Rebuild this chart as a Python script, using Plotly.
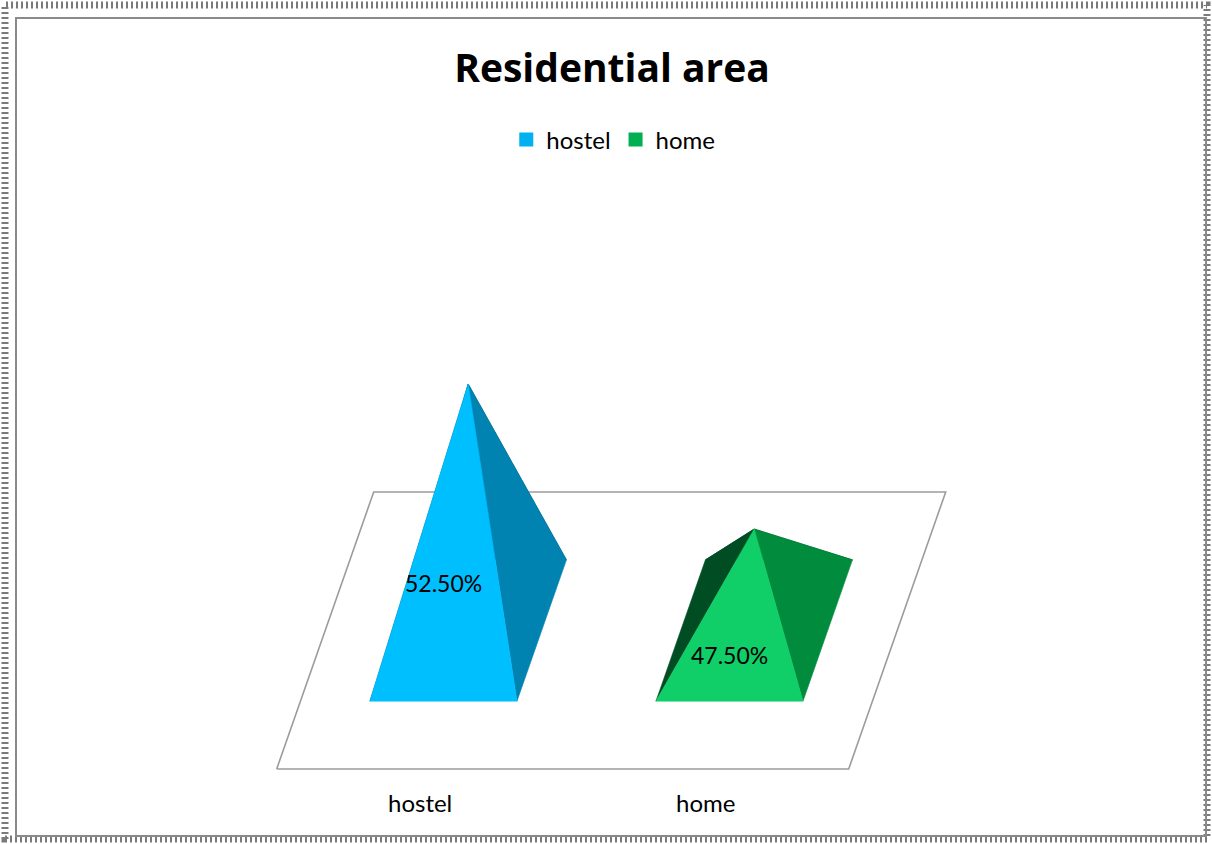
import plotly.graph_objects as go

# ---- data ----
categories = ["hostel", "home"]
values = [0.525, 0.475]
value_labels = ["52.50%", "47.50%"]
legend_colors = ["#00B0F0", "#00B050"]
front_colors = ["#00BFFF", "#10CF68"]
right_colors = ["#0083B0", "#008C3C"]
left_colors = ["#005F80", "#004D23"]
back_colors = ["#004F6B", "#003D1C"]

# ---- oblique projection (units: one category step) ----
UNIT_PX = 286.0
DEPTH_DX = 97.0 / UNIT_PX      # horizontal shift per unit of floor depth
DEPTH_DY = 277.0 / UNIT_PX     # vertical shift per unit of floor depth
VALUE_SCALE = 2900.0 / UNIT_PX # projected height per unit of value
VALUE_BASE = 0.44              # value at floor level
BASE_W = 0.514                 # pyramid base width (category units)
BASE_D = 0.51                  # pyramid base depth (floor depth units)
FLOOR_X = (-0.5, len(categories) - 0.5)


def proj(c, d, v):
    return c + d * DEPTH_DX, d * DEPTH_DY + (v - VALUE_BASE) * VALUE_SCALE


fig = go.Figure()

# floor
fx, fy = [], []
for c, d in [(FLOOR_X[0], 0), (FLOOR_X[1], 0), (FLOOR_X[1], 1), (FLOOR_X[0], 1), (FLOOR_X[0], 0)]:
    x, y = proj(c, d, VALUE_BASE)
    fx.append(x)
    fy.append(y)
fig.add_trace(go.Scatter(x=fx, y=fy, mode="lines", fill="toself", fillcolor="white",
                         line=dict(color="#9C9C9C", width=1.6), hoverinfo="skip",
                         showlegend=False))

# pyramids
d0, d1 = 0.5 - BASE_D / 2, 0.5 + BASE_D / 2
for i, (cat, val) in enumerate(zip(categories, values)):
    fl = proj(i - BASE_W / 2, d0, VALUE_BASE)
    fr = proj(i + BASE_W / 2, d0, VALUE_BASE)
    br = proj(i + BASE_W / 2, d1, VALUE_BASE)
    bl = proj(i - BASE_W / 2, d1, VALUE_BASE)
    apex = proj(i, 0.5, val)
    faces = [
        ([bl, br, apex], back_colors[i]),
        ([fl, bl, apex], left_colors[i]),
        ([fr, br, apex], right_colors[i]),
        ([fl, fr, apex], front_colors[i]),
    ]
    for pts, col in faces:
        xs = [p[0] for p in pts] + [pts[0][0]]
        ys = [p[1] for p in pts] + [pts[0][1]]
        fig.add_trace(go.Scatter(x=xs, y=ys, mode="lines", fill="toself", fillcolor=col,
                                 line=dict(color=col, width=0.6), hoverinfo="skip",
                                 showlegend=False))
    # value label on the front face
    lx, ly = proj(i, d0, VALUE_BASE + (val - VALUE_BASE) / 2)
    fig.add_annotation(x=lx, y=ly, text=value_labels[i], showarrow=False,
                       xanchor="center", yanchor="middle", yshift=-5,
                       font=dict(family="Lato", size=23, color="black"))
    # category label under the floor
    cx, cy = proj(i, 0, VALUE_BASE)
    fig.add_annotation(x=cx, y=cy, text=cat, showarrow=False, xanchor="center",
                       yanchor="top", yshift=-17,
                       font=dict(family="Lato", size=24, color="black"))

# legend entries
for cat, col in zip(categories, legend_colors):
    fig.add_trace(go.Scatter(x=[None], y=[None], mode="markers", name=cat,
                             marker=dict(symbol="square", size=14, color=col)))

W, H = 1212, 844
ox, oy = 419.7, 769.0  # pixel position of projected origin
fig.update_layout(
    width=W, height=H,
    margin=dict(l=0, r=0, t=0, b=0),
    paper_bgcolor="white", plot_bgcolor="white",
    title=dict(text="<b>Residential area</b>", x=0.505, xanchor="center",
               y=1 - 68 / H, yanchor="middle", yref="container",
               font=dict(family="Open Sans", size=39, color="black")),
    legend=dict(orientation="h", x=0.506, xanchor="center", y=1 - 140 / H,
                yanchor="middle", font=dict(family="Lato", size=24, color="black"),
                itemwidth=30, tracegroupgap=0),
    xaxis=dict(range=[-ox / UNIT_PX, (W - ox) / UNIT_PX], visible=False, fixedrange=True),
    yaxis=dict(range=[-(H - oy) / UNIT_PX, oy / UNIT_PX], visible=False, fixedrange=True),
    shapes=[
        dict(type="rect", xref="paper", yref="paper", x0=5 / W, x1=1 - 5 / W,
             y0=5 / H, y1=1 - 5 / H, line=dict(color="#7A7A7A", width=7, dash="2px,3px"),
             layer="below"),
        dict(type="rect", xref="paper", yref="paper", x0=16 / W, x1=1 - 6 / W,
             y0=8 / H, y1=1 - 18 / H, line=dict(color="#8A8A8A", width=2)),
    ],
)

fig.write_html("out.html")
